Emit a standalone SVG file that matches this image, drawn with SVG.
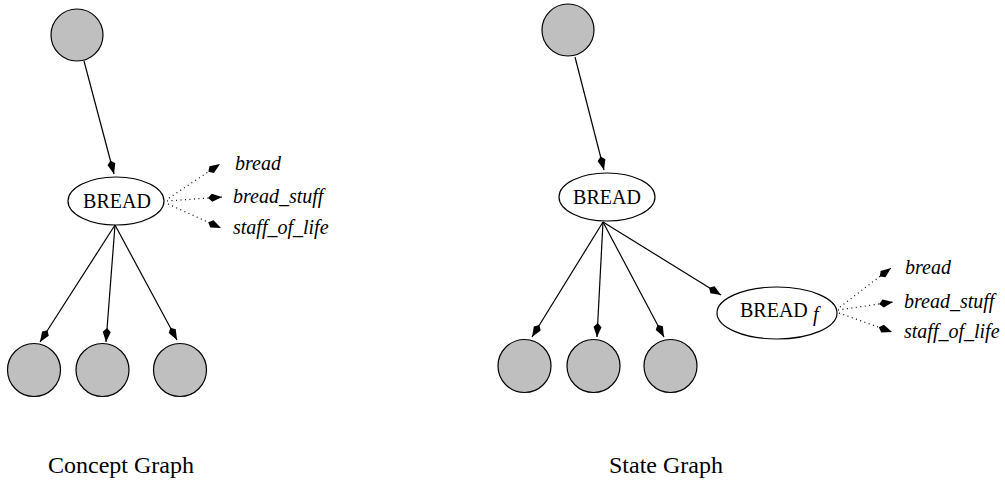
<svg xmlns="http://www.w3.org/2000/svg" width="1005" height="485" viewBox="0 0 1005 485">
<style>
.c{fill:#bfbfbf;stroke:#000;stroke-width:1.2}
.e{fill:#fff;stroke:#000;stroke-width:1.2}
.l{stroke:#000;stroke-width:1.2;fill:none;marker-end:url(#ah)}
.d{stroke:#000;stroke-width:1.2;fill:none;stroke-dasharray:1 3.5;marker-end:url(#ah)}
.t{font-family:"Liberation Serif","Times New Roman",serif;font-size:20px;fill:#000}
.i{font-family:"Liberation Serif","Times New Roman",serif;font-size:20px;font-style:italic;fill:#000}
.cap{font-family:"Liberation Serif","Times New Roman",serif;font-size:24px;fill:#000}
</style>
<defs>
<marker id="ah" viewBox="-15 -5 16 10" markerWidth="16" markerHeight="10" refX="0" refY="0" orient="auto" markerUnits="userSpaceOnUse">
<path d="M0,0 L-10,-4 L-14,0 L-10,4 z" fill="#000"/>
</marker>
</defs>
<rect width="1005" height="485" fill="#fff"/>
<g id="connectors">
<line class="l" x1="84" y1="61" x2="114" y2="174"/>
<line class="l" x1="115" y1="225" x2="40" y2="342"/>
<line class="l" x1="115" y1="225" x2="106" y2="342"/>
<line class="l" x1="115" y1="225" x2="177" y2="340"/>
<line class="d" x1="169" y1="198" x2="220" y2="164"/>
<line class="d" x1="167" y1="201" x2="222" y2="197"/>
<line class="d" x1="168" y1="204" x2="221" y2="228"/>
<line class="l" x1="575" y1="57" x2="604" y2="170"/>
<line class="l" x1="603" y1="222" x2="532" y2="337"/>
<line class="l" x1="603" y1="222" x2="597" y2="337"/>
<line class="l" x1="603" y1="222" x2="664" y2="337"/>
<line class="l" x1="603" y1="222" x2="721" y2="295"/>
<line class="d" x1="840" y1="307" x2="891" y2="268"/>
<line class="d" x1="838" y1="310" x2="893" y2="302"/>
<line class="d" x1="839" y1="313" x2="892" y2="332"/>
</g>
<g id="c-top"><circle class="c" cx="77" cy="35" r="26"/></g>
<g id="c-bread"><ellipse class="e" cx="116" cy="201" rx="48" ry="24"/><text class="t" x="117" y="208" text-anchor="middle">BREAD</text></g>
<g id="c-k1"><circle class="c" cx="34" cy="370" r="26.5"/></g>
<g id="c-k2"><circle class="c" cx="102.5" cy="370" r="26.5"/></g>
<g id="c-k3"><circle class="c" cx="180" cy="370" r="26.5"/></g>
<g id="c-labels">
<text class="i" x="235" y="170">bread</text>
<text class="i" x="233" y="203">bread_stuff</text>
<text class="i" x="233" y="234">staff_of_life</text>
</g>
<g id="s-top"><circle class="c" cx="568" cy="30" r="26"/></g>
<g id="s-bread"><ellipse class="e" cx="607" cy="197" rx="48" ry="24"/><text class="t" x="607" y="204" text-anchor="middle">BREAD</text></g>
<g id="s-k1"><circle class="c" cx="524.5" cy="366" r="26.5"/></g>
<g id="s-k2"><circle class="c" cx="593.5" cy="366" r="26.5"/></g>
<g id="s-k3"><circle class="c" cx="670.5" cy="366" r="26.5"/></g>
<g id="s-breadf"><ellipse class="e" cx="777" cy="313" rx="60" ry="26"/><text class="t" x="740" y="317">BREAD</text><text class="i" x="813" y="321">f</text></g>
<g id="s-labels">
<text class="i" x="905" y="274">bread</text>
<text class="i" x="904" y="308">bread_stuff</text>
<text class="i" x="904" y="338">staff_of_life</text>
</g>
<g id="captions">
<text class="cap" x="48" y="473">Concept Graph</text>
<text class="cap" x="609" y="473">State Graph</text>
</g>
</svg>
